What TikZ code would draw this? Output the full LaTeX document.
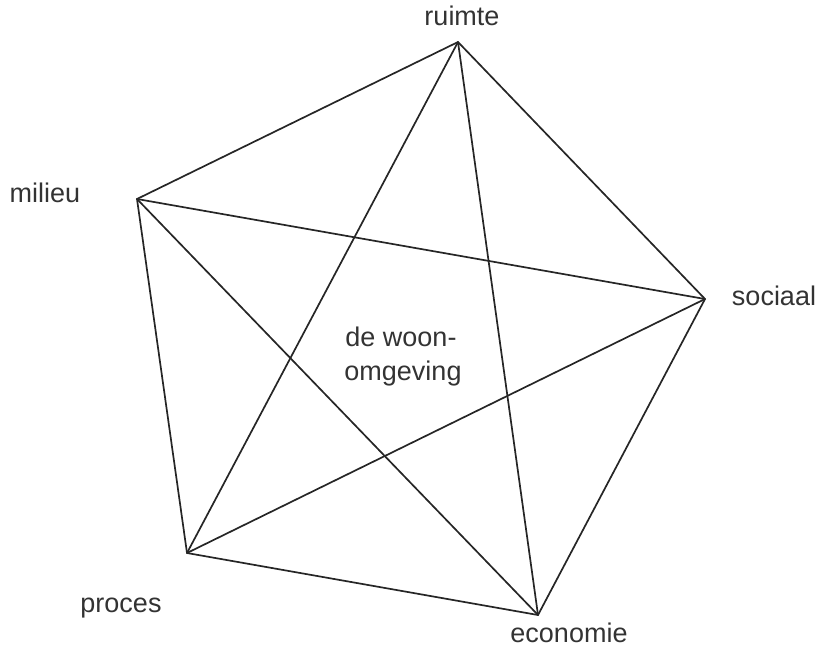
\documentclass[tikz,border=0pt]{standalone}
\usepackage{fontspec}
\setmainfont{Liberation Sans}
\begin{document}
\begin{tikzpicture}[x=1pt,y=-1pt,
  edge/.style={draw=black!85, line width=1.7pt, line cap=round, line join=round},
  lbl/.style={font=\fontsize{27}{32}\selectfont, text=black!80, inner sep=0pt}]
\useasboundingbox (0,0) rectangle (821,648);
\coordinate (R) at (458,42);
\coordinate (M) at (137,199);
\coordinate (S) at (705,299);
\coordinate (P) at (187,553);
\coordinate (E) at (538,615);
\draw[edge] (R) -- (S) -- (E) -- (P) -- (M) -- cycle;
\draw[edge] (R) -- (P);
\draw[edge] (R) -- (E);
\draw[edge] (M) -- (S);
\draw[edge] (M) -- (E);
\draw[edge] (S) -- (P);
\node[lbl, anchor=base] (lr) at (462,25) {ruimte};
\node[lbl, anchor=base] (lm) at (45,202) {milieu};
\node[lbl, anchor=base] (ls) at (774,305) {sociaal};
\node[lbl, anchor=base] (lp) at (121,612) {proces};
\node[lbl, anchor=base] (le) at (569,642) {economie};
\node[lbl, anchor=base] (c1) at (401,346) {de woon-};
\node[lbl, anchor=base] (c2) at (403,380) {omgeving};
\end{tikzpicture}
\end{document}
